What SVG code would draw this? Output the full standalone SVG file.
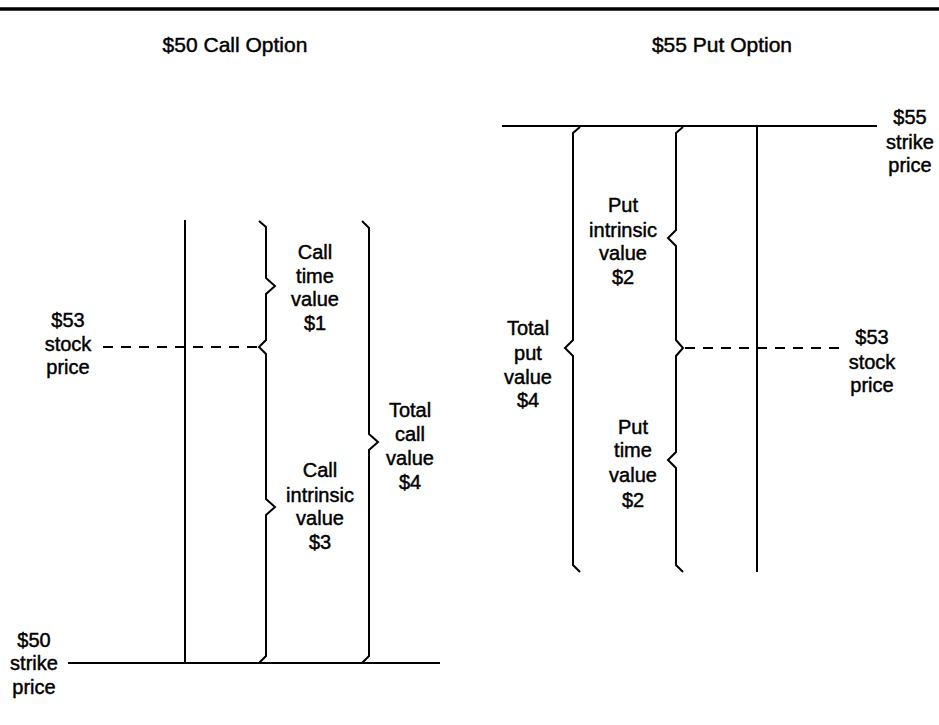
<svg xmlns="http://www.w3.org/2000/svg" width="939" height="725" viewBox="0 0 939 725">
<style>
.t{font-family:"Liberation Sans",Arial,sans-serif;font-size:20px;fill:#000;text-anchor:middle;stroke:#000;stroke-width:0.45px}
.h{font-size:21px}
.ln{stroke:#000;stroke-width:2;fill:none}
.br{stroke:#000;stroke-width:2;fill:none;stroke-linejoin:miter}
.ds{stroke:#000;stroke-width:2;stroke-dasharray:10 8;fill:none}
</style>
<rect width="939" height="725" fill="#fff"/>
<line x1="0" y1="9" x2="939" y2="9" stroke="#000" stroke-width="3.5"/>
<g id="titles">
<text class="t h" x="235" y="52">$50 Call Option</text>
<text class="t h" x="722" y="52">$55 Put Option</text>
</g>
<g id="connectors">
<line class="ln" x1="185" y1="220" x2="185" y2="663"/>
<line class="ln" x1="68" y1="663" x2="440" y2="663"/>
<line class="ds" x1="103" y1="347" x2="258" y2="347"/>
<line class="ln" x1="757" y1="126" x2="757" y2="572"/>
<line class="ln" x1="502" y1="126" x2="877" y2="126"/>
<line class="ds" x1="685" y1="348" x2="840" y2="348"/>
</g>
<g id="call-braces">
<path class="br" d="M259,221 L266,227 L266,278 L275,286 L266,294 L266,340 L259,347 L266,354 L266,499 L275,507 L266,515 L266,656 L259,663"/>
<path class="br" d="M362,221 L369,228 L369,434 L378,442 L369,450 L369,656 L362,663"/>
</g>
<g id="put-braces">
<path class="br" d="M580,127 L573,133 L573,340 L565,348 L573,356 L573,565 L580,572"/>
<path class="br" d="M683,127 L676,133 L676,230 L668,238 L676,246 L676,340 L683,348 L676,356 L676,452 L668,460 L676,468 L676,565 L683,572"/>
</g>
<g id="call-stock">
<text class="t" x="68" y="327">$53</text>
<text class="t" x="68" y="351">stock</text>
<text class="t" x="68" y="374">price</text>
</g>
<g id="call-time">
<text class="t" x="315" y="259">Call</text>
<text class="t" x="315" y="283">time</text>
<text class="t" x="315" y="306">value</text>
<text class="t" x="315" y="330">$1</text>
</g>
<g id="call-intrinsic">
<text class="t" x="320" y="477">Call</text>
<text class="t" x="320" y="502">intrinsic</text>
<text class="t" x="320" y="525">value</text>
<text class="t" x="320" y="549">$3</text>
</g>
<g id="call-total">
<text class="t" x="410" y="417">Total</text>
<text class="t" x="410" y="441">call</text>
<text class="t" x="410" y="465">value</text>
<text class="t" x="410" y="489">$4</text>
</g>
<g id="call-strike">
<text class="t" x="34" y="647">$50</text>
<text class="t" x="34" y="670">strike</text>
<text class="t" x="34" y="694">price</text>
</g>
<g id="put-strike">
<text class="t" x="910" y="124">$55</text>
<text class="t" x="910" y="149">strike</text>
<text class="t" x="910" y="172">price</text>
</g>
<g id="put-stock">
<text class="t" x="872" y="344">$53</text>
<text class="t" x="872" y="369">stock</text>
<text class="t" x="872" y="392">price</text>
</g>
<g id="put-total">
<text class="t" x="528" y="335">Total</text>
<text class="t" x="528" y="360">put</text>
<text class="t" x="528" y="384">value</text>
<text class="t" x="528" y="407">$4</text>
</g>
<g id="put-intrinsic">
<text class="t" x="623" y="212">Put</text>
<text class="t" x="623" y="237">intrinsic</text>
<text class="t" x="623" y="260">value</text>
<text class="t" x="623" y="284">$2</text>
</g>
<g id="put-time">
<text class="t" x="633" y="434">Put</text>
<text class="t" x="633" y="457">time</text>
<text class="t" x="633" y="482">value</text>
<text class="t" x="633" y="507">$2</text>
</g>
</svg>
